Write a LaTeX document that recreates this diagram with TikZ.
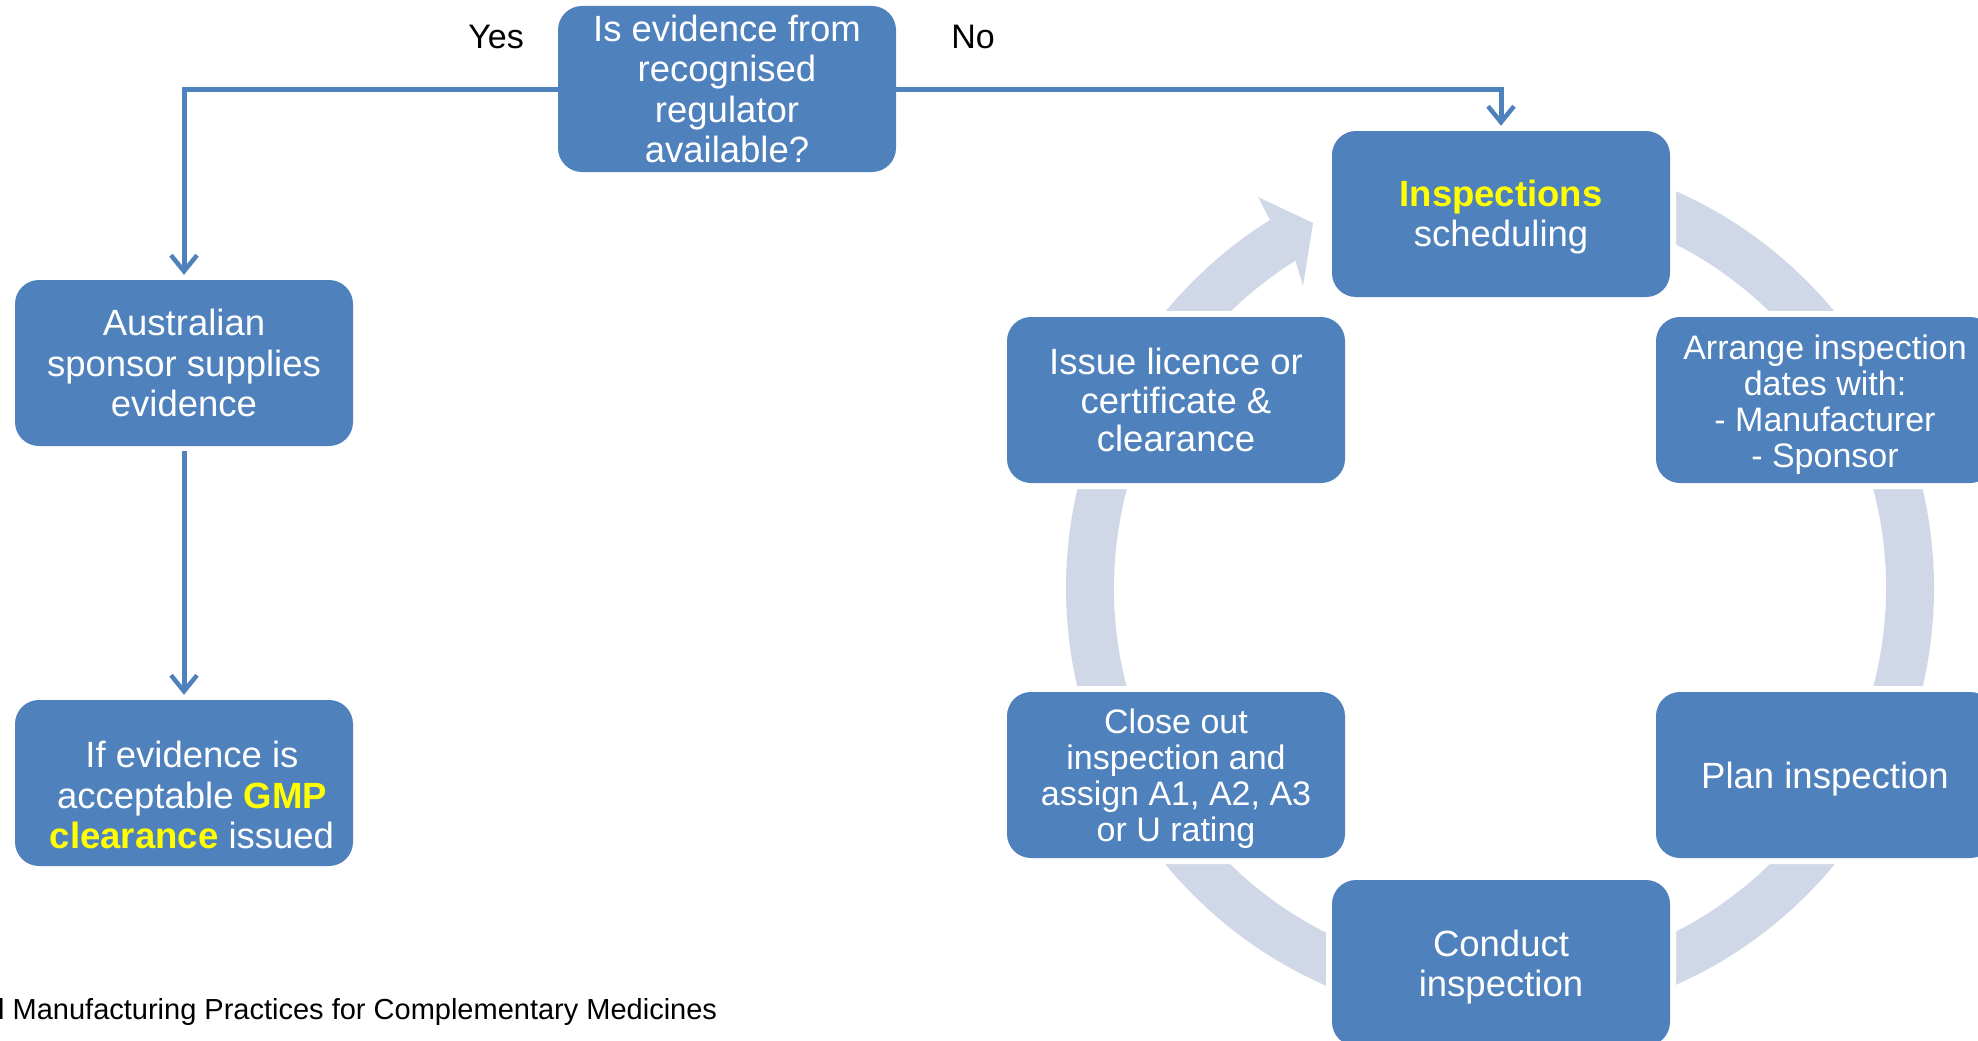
\documentclass[tikz,border=0pt]{standalone}
\usepackage{fontspec}
\setmainfont{Liberation Sans}
\usetikzlibrary{calc,arrows.meta}
\definecolor{boxblue}{RGB}{79,129,189}
\definecolor{ringc}{RGB}{208,216,232}
\definecolor{hiyel}{RGB}{255,255,0}
\tikzset{
  box/.style={fill=boxblue, rounded corners=24pt, minimum width=338pt, minimum height=166pt,
    inner sep=0pt,
    preaction={draw=white, line width=12pt, rounded corners=24pt}},
  btext/.style={align=center, text=white, inner sep=0pt, font=\fontsize{36.5}{40.5}\selectfont},
  stext/.style={btext, font=\fontsize{34}{36}\selectfont},
  conn/.style={draw=boxblue, line width=5pt, -{Straight Barb[length=16pt,width=26pt,line width=4.5pt]}},
  lbl/.style={font=\fontsize{34}{40}\selectfont, text=black, inner sep=0pt}
}
\newcommand{\hy}[1]{\textcolor{hiyel}{\bfseries #1}}
\begin{document}
\begin{tikzpicture}[x=1pt,y=1pt]
\useasboundingbox (0,0) rectangle (1978,-1041);
\coordinate (c) at (1500,-588);
% ring with arrowhead
\fill[ringc] ($(c)+(90:434pt)$) arc[start angle=90,end angle=-238,radius=434pt]
  -- (1258,-197) -- (1313,-223) -- (1303,-286)
  -- ($(c)+(122:386pt)$) arc[start angle=-238,end angle=90,radius=386pt] -- cycle;
% boxes
\node[box, label={[btext]center:{Is evidence from\\recognised\\regulator\\available?}}] (q) at (727,-89) {};
\node[box, label={[btext]center:{Australian\\sponsor supplies\\evidence}}] (aus) at (184,-363) {};
\node[box, label={[btext, xshift=8pt, yshift=-12pt]center:{If evidence is\\acceptable \hy{GMP}\\\hy{clearance} issued}}] (gmp) at (184,-783) {};
\node[box, label={[btext, yshift=-3pt]center:{\hy{Inspections}\\scheduling}}] (ins) at (1501,-214) {};
\node[box, label={[btext, font=\fontsize{36.5}{38.5}\selectfont]center:{Issue licence or\\certificate \&\\clearance}}] (iss) at (1176,-400) {};
\node[box, label={[stext, yshift=-5pt]center:{Arrange inspection\\dates with:\\- Manufacturer\\- Sponsor}}] (arr) at (1825,-400) {};
\node[box, label={[stext, yshift=-4pt]center:{Close out\\inspection and\\assign A1, A2, A3\\or U rating}}] (clo) at (1176,-775) {};
\node[box, label={[btext, yshift=-4pt]center:{Plan inspection}}] (plan) at (1825,-775) {};
\node[box, label={[btext, yshift=-4pt]center:{Conduct\\inspection}}] (con) at (1501,-963) {};
% connectors
\draw[conn, shorten >=5pt] (q.west) -| (aus.north);
\draw[conn, shorten >=5pt] (q.east) -| (ins.north);
\draw[conn, shorten <=5pt, shorten >=5pt] (aus.south) -- (gmp.north);
% labels
\node[lbl] (yes) at (496,-37) {Yes};
\node[lbl] (no) at (973,-37) {No};
\node[font=\fontsize{29}{34}\selectfont, anchor=base west, inner sep=0pt] (foot) at (-2,-1019)
  {l Manufacturing Practices for Complementary Medicines};
\end{tikzpicture}
\end{document}
